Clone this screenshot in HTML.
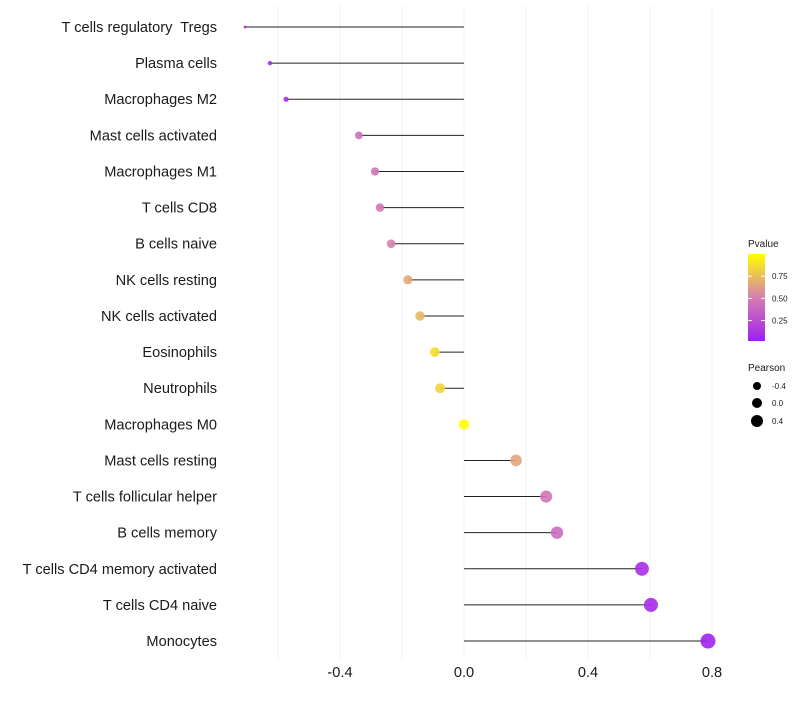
<!DOCTYPE html><html><head><meta charset="utf-8"><style>body{margin:0;background:#fff}svg text{font-family:"Liberation Sans",sans-serif;white-space:pre}</style></head><body>
<svg id="c" width="800" height="700"></svg>
<script>
const categories=["T cells regulatory  Tregs","Plasma cells","Macrophages M2","Mast cells activated","Macrophages M1","T cells CD8","B cells naive","NK cells resting","NK cells activated","Eosinophils","Neutrophils","Macrophages M0","Mast cells resting","T cells follicular helper","B cells memory","T cells CD4 memory activated","T cells CD4 naive","Monocytes"];
const pearson=[-0.706,-0.626,-0.574,-0.339,-0.287,-0.271,-0.235,-0.181,-0.142,-0.094,-0.077,0,0.168,0.265,0.3,0.574,0.603,0.787];
const pvalues=[0.02,0.05,0.08,0.42,0.44,0.46,0.5,0.66,0.73,0.86,0.83,1.0,0.65,0.45,0.4,0.08,0.06,0.01];
const xTicks=[-0.4,0,0.4,0.8];
const gridVals=[-0.6,-0.4,-0.2,0,0.2,0.4,0.6,0.8];
const NS="http://www.w3.org/2000/svg",svg=document.getElementById('c');
const x=v=>464+v*310, y=i=>27+i*36.12;
function mk(t,a,p){const e=document.createElementNS(NS,t);for(const k in a)e.setAttribute(k,a[k]);(p||svg).appendChild(e);return e;}
function lerp(a,b,t){return a.map((v,i)=>Math.round(v+(b[i]-v)*t));}
function col(p){const s=[[160,32,240],[213,127,176],[255,255,0]];const c=p<0.5?lerp(s[0],s[1],p/0.5):lerp(s[1],s[2],(p-0.5)/0.5);return`rgb(${c})`;}
const mn=Math.min(...pearson),mx=Math.max(...pearson);
const rad=v=>Math.sqrt(2+(v-mn)/(mx-mn)*(56-2));
gridVals.forEach(g=>{const l=mk('line',{x1:x(g),x2:x(g),y1:5,y2:660,stroke:'#f3f3f3','stroke-width':1});
});
categories.forEach((c,i)=>{
const t=mk('text',{x:217,y:y(i)+5,'text-anchor':'end','font-size':14.6,fill:'#1a1a1a'});t.textContent=c;

const l=mk('line',{x1:x(0),x2:x(pearson[i]),y1:y(i),y2:y(i),stroke:'#222','stroke-width':1});

const d=mk('circle',{cx:x(pearson[i]),cy:y(i),r:rad(pearson[i]),fill:col(pvalues[i]),'fill-opacity':0.9});
});
xTicks.forEach(v=>{const t=mk('text',{x:x(v),y:677,'text-anchor':'middle','font-size':14.6,fill:'#1a1a1a'});t.textContent=v===0?'0.0':v.toFixed(1);
});
const g=mk('g',{});
const df=mk('defs',{});const lg=mk('linearGradient',{id:'pg',x1:0,y1:1,x2:0,y2:0},df);
[[0,0],[0.5,0.5],[1,1]].forEach(s=>mk('stop',{offset:s[0],'stop-color':col(s[1])},lg));
const lt=mk('text',{x:748,y:247,'font-size':10,fill:'#1a1a1a'},g);lt.textContent='Pvalue';
mk('rect',{x:748,y:254,width:17,height:87,fill:'url(#pg)'},g);
[[0.75,'0.75'],[0.5,'0.50'],[0.25,'0.25']].forEach(([v,s])=>{const yy=341-(v-0.02)/0.98*87;
mk('line',{x1:748,x2:752,y1:yy,y2:yy,stroke:'#fff'},g);mk('line',{x1:761,x2:765,y1:yy,y2:yy,stroke:'#fff'},g);
const t=mk('text',{x:772,y:yy+3,'font-size':8,fill:'#1a1a1a'},g);t.textContent=s;});
const pt=mk('text',{x:748,y:371,'font-size':10,fill:'#1a1a1a'},g);pt.textContent='Pearson';
[[-0.4,386,4],[0,403,5],[0.4,421,6]].forEach(([v,yy,r])=>{mk('circle',{cx:757,cy:yy,r:r,fill:'#000'},g);
const t=mk('text',{x:772,y:yy+3,'font-size':8,fill:'#1a1a1a'},g);t.textContent=v===0?'0.0':v.toFixed(1);});
</script></body></html>
